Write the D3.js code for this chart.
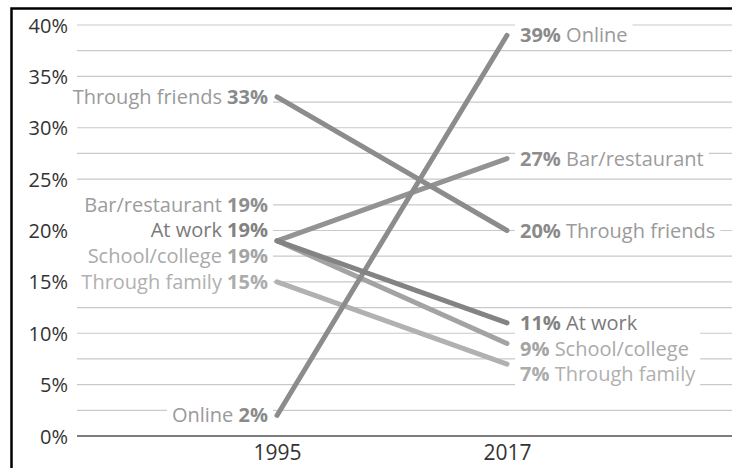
<!DOCTYPE html>
<html>
<head>
<meta charset="utf-8">
<script src="https://cdn.jsdelivr.net/npm/d3@7"></script>
<style>
  html, body { margin: 0; padding: 0; background: #fff; }
  svg { display: block; font-family: "Open Sans", sans-serif; }
</style>
</head>
<body>
<svg id="chart" width="732" height="468"></svg>
<script>
// How couples met: share of couples, 1995 vs 2017
const years = ["1995", "2017"];
const series = ["Online", "Through friends", "Bar/restaurant", "At work", "School/college", "Through family"];
const values1995 = [2, 33, 19, 19, 19, 15];
const values2017 = [39, 20, 27, 11, 9, 7];
const yTickValues = [0, 5, 10, 15, 20, 25, 30, 35, 40];
const gridValues = [0, 2.5, 5, 7.5, 10, 12.5, 15, 17.5, 20, 22.5, 25, 27.5, 30, 32.5, 35, 37.5, 40];

const lineColors = ["#8c8c8c", "#8c8c8c", "#939393", "#838383", "#a3a3a3", "#b1b1b1"];
const valueColors = ["#8a8a8a", "#8a8a8a", "#8e8e8e", "#828282", "#a4a4a4", "#acacac"];
const nameColors = ["#9a9a9a", "#9a9a9a", "#9c9c9c", "#7a7a7a", "#aaaaaa", "#b0b0b0"];

const W = 732, H = 468;
const svg = d3.select("#chart");

const x = d3.scalePoint().domain(years).range([277, 507]);
const y = d3.scaleLinear().domain([0, 40]).range([436, 25]);

const gridLeft = 77;
const labelGap = 25.7;
const labelOffset = 9;     // distance from line end to label, left side
const labelOffsetR = 13;   // right side
const pad = 5;

// gridlines
svg.append("g")
  .selectAll("line")
  .data(gridValues.filter(v => v > 0))
  .join("line")
  .attr("x1", gridLeft).attr("x2", W)
  .attr("y1", d => y(d)).attr("y2", d => y(d))
  .attr("stroke", "#c9c9c9").attr("stroke-width", 1.2);

// baseline
svg.append("line")
  .attr("x1", gridLeft).attr("x2", W)
  .attr("y1", y(0)).attr("y2", y(0))
  .attr("stroke", "#7d7d7d").attr("stroke-width", 2);

// y axis labels
const yAxis = d3.axisLeft(y).tickValues(yTickValues).tickFormat(d => d + "%").tickSize(0).tickPadding(0);
const yAxisG = svg.append("g").attr("transform", "translate(68,0)").call(yAxis);
yAxisG.select(".domain").remove();
yAxisG.selectAll("text")
  .attr("font-family", "Open Sans, sans-serif")
  .attr("font-size", 20).attr("fill", "#333").attr("dy", "0.35em");

// x axis labels
const xAxis = d3.axisBottom(x).tickSize(0).tickPadding(0);
const xAxisG = svg.append("g").attr("transform", "translate(0,443)").call(xAxis);
xAxisG.select(".domain").remove();
xAxisG.selectAll("text")
  .attr("font-family", "Open Sans, sans-serif")
  .attr("font-size", 21).attr("fill", "#333").attr("dy", "0.8em");

// label layout: spread equal values, then push overlapping labels apart
function dodge(values, direction) {
  const items = values.map((v, i) => ({ i, value: v }));
  const byVal = d3.group(items, d => d.value);
  for (const [v, g] of byVal) {
    g.forEach((d, k) => d.y = y(v) + (k - (g.length - 1) / 2) * labelGap);
  }
  const sorted = items.slice().sort((a, b) => a.y - b.y);
  if (direction === "up") {
    for (let k = sorted.length - 2; k >= 0; k--)
      sorted[k].y = Math.min(sorted[k].y, sorted[k + 1].y - labelGap);
  } else {
    for (let k = 1; k < sorted.length; k++)
      sorted[k].y = Math.max(sorted[k].y, sorted[k - 1].y + labelGap);
  }
  // chain touching labels into clusters that share one background
  let cluster = 0;
  sorted.forEach((d, k) => {
    if (k > 0 && d.y - sorted[k - 1].y > labelGap + 0.5) cluster++;
    d.cluster = cluster;
  });
  return items;
}

const leftLabels = dodge(values1995, "up");
const rightLabels = dodge(values2017, "down");

const bgLayer = svg.append("g");
const textLayer = svg.append("g");

function drawLabels(labels, side) {
  const vals = side === "left" ? values1995 : values2017;
  const xPos = side === "left" ? x("1995") - labelOffset : x("2017") + labelOffsetR;
  const texts = textLayer.selectAll(null)
    .data(labels)
    .join("text")
    .attr("x", xPos)
    .attr("y", d => d.y)
    .attr("dy", "0.35em")
    .attr("font-size", 20)
    .attr("text-anchor", side === "left" ? "end" : "start");
  texts.each(function (d) {
    const t = d3.select(this);
    const name = s => t.append("tspan").attr("fill", nameColors[d.i]).text(s);
    const val = s => t.append("tspan").attr("font-weight", 700).attr("fill", valueColors[d.i]).text(s);
    if (side === "left") {
      name(series[d.i] + " ");
      val(vals[d.i] + "%");
    } else {
      val(vals[d.i] + "%");
      name(" " + series[d.i]);
    }
    d.width = this.getComputedTextLength();
  });
  const clusterWidth = d3.rollup(labels, g => d3.max(g, d => d.width), d => d.cluster);
  bgLayer.selectAll(null)
    .data(labels)
    .join("rect")
    .attr("x", d => side === "left" ? xPos + pad - clusterWidth.get(d.cluster) - 2 * pad : xPos - pad)
    .attr("y", d => d.y - labelGap / 2)
    .attr("width", d => clusterWidth.get(d.cluster) + 2 * pad)
    .attr("height", labelGap)
    .attr("fill", "#fff");
}
drawLabels(leftLabels, "left");
drawLabels(rightLabels, "right");

// slope lines, lighter ones underneath
const drawOrder = [5, 4, 2, 1, 0, 3];
svg.append("g")
  .selectAll("line")
  .data(drawOrder)
  .join("line")
  .attr("x1", x("1995")).attr("y1", i => y(values1995[i]))
  .attr("x2", x("2017")).attr("y2", i => y(values2017[i]))
  .attr("stroke", i => lineColors[i])
  .attr("stroke-width", 5)
  .attr("stroke-linecap", "round");

// frame
svg.append("path")
  .attr("d", `M11.5,${H} V8.5 H${W}`)
  .attr("fill", "none")
  .attr("stroke", "#000")
  .attr("stroke-width", 2.5);
</script>
</body>
</html>
